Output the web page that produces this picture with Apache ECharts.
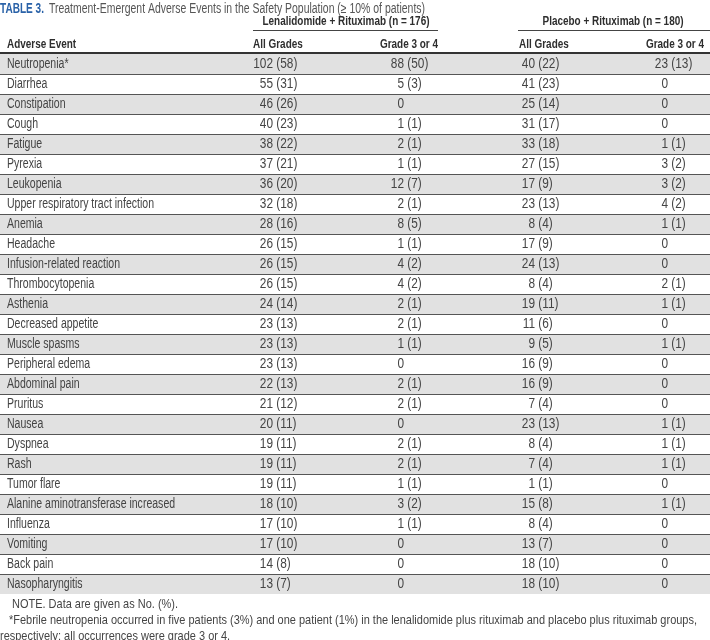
<!DOCTYPE html>
<html><head><meta charset="utf-8">
<script src="https://cdn.jsdelivr.net/npm/echarts@6/dist/echarts.min.js"></script>
<style>html,body{margin:0;padding:0;background:#fff}#c{width:710px;height:640px}</style>
</head><body><div id="c"></div>
<script>
const events = ["Neutropenia*","Diarrhea","Constipation","Cough","Fatigue","Pyrexia","Leukopenia","Upper respiratory tract infection","Anemia","Headache","Infusion-related reaction","Thrombocytopenia","Asthenia","Decreased appetite","Muscle spasms","Peripheral edema","Abdominal pain","Pruritus","Nausea","Dyspnea","Rash","Tumor flare","Alanine aminotransferase increased","Influenza","Vomiting","Back pain","Nasopharyngitis"];
const lenAllN   = [102,55,46,40,38,37,36,32,28,26,26,26,24,23,23,23,22,21,20,19,19,19,18,17,17,14,13];
const lenAllPct = [58,31,26,23,22,21,20,18,16,15,15,15,14,13,13,13,13,12,11,11,11,11,10,10,10,8,7];
const lenG34N   = [88,5,0,1,2,1,12,2,8,1,4,4,2,2,1,0,2,2,0,2,2,1,3,1,0,0,0];
const lenG34Pct = [50,3,null,1,1,1,7,1,5,1,2,2,1,1,1,null,1,1,null,1,1,1,2,1,null,null,null];
const plaAllN   = [40,41,25,31,33,27,17,23,8,17,24,8,19,11,9,16,16,7,23,8,7,1,15,8,13,18,18];
const plaAllPct = [22,23,14,17,18,15,9,13,4,9,13,4,11,6,5,9,9,4,13,4,4,1,8,4,7,10,10];
const plaG34N   = [23,0,0,0,1,3,3,4,1,0,0,2,1,0,1,0,0,0,1,1,1,0,1,0,0,0,0];
const plaG34Pct = [13,null,null,null,1,2,2,2,1,null,null,1,1,null,1,null,null,null,1,1,1,null,1,null,null,null,null];
const groupHeaders = ["Lenalidomide + Rituximab (n = 176)", "Placebo + Rituximab (n = 180)"];
const colHeaders = ["Adverse Event", "All Grades", "Grade 3 or 4", "All Grades", "Grade 3 or 4"];
const titleLabel = "TABLE 3.";
const titleText = "Treatment-Emergent Adverse Events in the Safety Population (\u2265 10% of patients)";
const notes = ["NOTE. Data are given as No. (%).",
  "*Febrile neutropenia occurred in five patients (3%) and one patient (1%) in the lenalidomide plus rituximab and placebo plus rituximab groups,",
  "respectively; all occurrences were grade 3 or 4."];

const FAM = '"Liberation Sans", Arial, sans-serif';
const BODY_FONT = '14px ' + FAM;
const HEAD_FONT = 'bold 13.5px ' + FAM;
const TITLE_B = 'bold 14px ' + FAM;
const TITLE_R = '14px ' + FAM;
const NOTE_FONT = '13.5px ' + FAM;
const BODY = '#444';
const HEAD = '#2e2e2e';
const GRAY = '#e1e1e1';

const mctx = document.createElement('canvas').getContext('2d');
function tw(font, s) { mctx.font = font; return mctx.measureText(s).width; }
const sxLab = 147 / tw(BODY_FONT, "Upper respiratory tract infection");
const sxNum = 37.5 / tw(BODY_FONT, "88 (50)");
const sxHead = 167 / tw(HEAD_FONT, groupHeaders[0]);
const sxTB = 44 / tw(TITLE_B, titleLabel);
const sxTR = 376 / tw(TITLE_R, titleText);
const sxNote = 688 / tw(NOTE_FONT, notes[1]);
const gapNum = tw(BODY_FONT, ' ') * sxNum;

const columns = [
  {n: lenAllN, p: lenAllPct, x: 273},
  {n: lenG34N, p: lenG34Pct, x: 404},
  {n: plaAllN, p: plaAllPct, x: 535},
  {n: plaG34N, p: plaG34Pct, x: 668}
];
const rowIdx = events.map((_, i) => [0, i]);

function renderRow(params, api) {
  const i = params.dataIndex;
  const a = api.coord([0, i]);
  const b = api.coord([710, i]);
  const h = api.size([0, 1])[1];
  const top = Math.round(a[1] - h / 2);
  const ch = [{type: 'rect', shape: {x: a[0], y: top, width: b[0] - a[0], height: h},
    style: {fill: i % 2 === 0 ? GRAY : '#ffffff'}}];
  if (i > 0) ch.push({type: 'line', shape: {x1: a[0], y1: top + 0.5, x2: b[0], y2: top + 0.5},
    style: {stroke: '#555', lineWidth: 1.2}});
  return {type: 'group', children: ch};
}
function txt(x, y, s, font, fill, align, sx) {
  return {type: 'text', x: x, y: y, scaleX: sx, style: {text: s, font: font, fill: fill, textAlign: align, textVerticalAlign: 'middle'}};
}
function renderText(params, api) {
  const i = params.dataIndex;
  const ch = [];
  const lp = api.coord([7, i]);
  ch.push(txt(lp[0], lp[1], events[i], BODY_FONT, BODY, 'left', sxLab));
  columns.forEach(c => {
    const p = api.coord([c.x, i]);
    ch.push(txt(p[0], p[1], String(c.n[i]), BODY_FONT, BODY, 'right', sxNum));
    if (c.p[i] !== null) {
      ch.push(txt(p[0] + gapNum, p[1], '(' + c.p[i] + ')', BODY_FONT, BODY, 'left', sxNum));
    }
  });
  return {type: 'group', children: ch};
}

const chart = echarts.init(document.getElementById('c'), null, {renderer: 'canvas'});
chart.setOption({
  animation: false,
  grid: {left: 0, right: 0, top: 54, height: 540},
  xAxis: {type: 'value', min: 0, max: 710, show: false},
  yAxis: {type: 'category', data: events, inverse: true, show: false},
  series: [
    {type: 'custom', renderItem: renderRow, data: rowIdx, silent: true},
    {type: 'custom', renderItem: renderText, data: rowIdx, silent: true}
  ],
  graphic: [
    txt(0, 9, titleLabel, TITLE_B, '#2a62a8', 'left', sxTB),
    txt(49, 9, titleText, TITLE_R, '#555', 'left', sxTR),
    txt(346, 21, groupHeaders[0], HEAD_FONT, HEAD, 'center', sxHead),
    txt(613, 21, groupHeaders[1], HEAD_FONT, HEAD, 'center', sxHead),
    {type: 'line', shape: {x1: 253, y1: 30.5, x2: 438, y2: 30.5}, style: {stroke: '#444', lineWidth: 1}},
    {type: 'line', shape: {x1: 518, y1: 30.5, x2: 710, y2: 30.5}, style: {stroke: '#444', lineWidth: 1}},
    txt(7, 44, colHeaders[0], HEAD_FONT, HEAD, 'left', sxHead),
    txt(253, 44, colHeaders[1], HEAD_FONT, HEAD, 'left', sxHead),
    txt(438, 44, colHeaders[2], HEAD_FONT, HEAD, 'right', sxHead),
    txt(519, 44, colHeaders[3], HEAD_FONT, HEAD, 'left', sxHead),
    txt(704, 44, colHeaders[4], HEAD_FONT, HEAD, 'right', sxHead),
    {type: 'line', shape: {x1: 0, y1: 53, x2: 710, y2: 53}, style: {stroke: '#333', lineWidth: 2}},
    txt(12, 604, notes[0], NOTE_FONT, BODY, 'left', sxNote),
    txt(9, 620, notes[1], NOTE_FONT, BODY, 'left', sxNote),
    txt(0, 636, notes[2], NOTE_FONT, BODY, 'left', sxNote)
  ]
});
</script></body></html>
